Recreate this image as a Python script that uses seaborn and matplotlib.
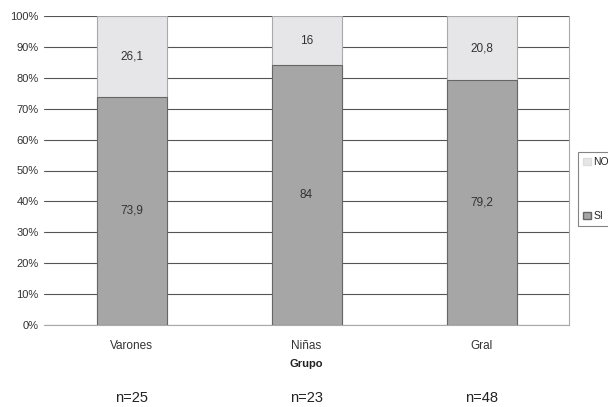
import matplotlib
matplotlib.use("Agg")
import matplotlib.pyplot as plt
import seaborn as sns
import pandas as pd
from matplotlib.patches import Patch

grupos = ["Varones", "Niñas", "Gral"]
si_vals = [73.9, 84, 79.2]
no_vals = [26.1, 16, 20.8]
si_labels = ["73,9", "84", "79,2"]
no_labels = ["26,1", "16", "20,8"]
n_labels = ["n=25", "n=23", "n=48"]

sns.set_theme(style="white")
plt.rcParams['font.family'] = ['Liberation Sans', 'DejaVu Sans']

df = pd.DataFrame({"Grupo": grupos, "SI": si_vals, "NO": no_vals})
df["Total"] = df["SI"] + df["NO"]

fig = plt.figure(figsize=(6.08, 4.07), dpi=100)
ax = fig.add_axes([44/608, 1-325/407, (569-44)/608, (325-16)/407])

c_si = "#a6a6a6"
c_no = "#e6e6e8"
edge = "#666666"

sns.barplot(data=df, x="Grupo", y="Total", color=c_no, width=0.4,
            edgecolor="#aaaaaa", linewidth=0.8, ax=ax, zorder=3, saturation=1)
sns.barplot(data=df, x="Grupo", y="SI", color=c_si, width=0.4,
            edgecolor=edge, linewidth=0.8, ax=ax, zorder=4, saturation=1)

for i in range(len(grupos)):
    ax.text(i, si_vals[i] / 2, si_labels[i], ha="center", va="center",
            fontsize=8.5, color="#333333", zorder=5)
    ax.text(i, si_vals[i] + no_vals[i] / 2, no_labels[i], ha="center", va="center",
            fontsize=8.5, color="#333333", zorder=5)

ax.set_ylim(0, 100)
ax.set_xlim(-0.5, 2.5)
ax.set_yticks(range(0, 101, 10))
ax.set_yticklabels([f"{v}%" for v in range(0, 101, 10)], fontsize=8, color="#333333")
ax.set_xticks(range(3))
ax.set_xticklabels(grupos, fontsize=8.5, color="#333333")
ax.set_xticks([0.5, 1.5], minor=True)
ax.tick_params(axis="x", which="major", length=0, pad=11)
ax.tick_params(axis="x", which="minor", length=3, color="#888888", direction="out")
ax.tick_params(axis="y", length=0, pad=4)
ax.yaxis.grid(True, color="#555555", linewidth=0.8, zorder=0)
ax.set_axisbelow(True)
ax.set_xlabel("Grupo", fontsize=8, fontweight="bold", color="#222222", labelpad=5)
ax.set_ylabel("")

for s in ["left", "top"]:
    ax.spines[s].set_visible(False)
ax.spines["right"].set_color("#aaaaaa")
ax.spines["bottom"].set_color("#aaaaaa")
ax.spines["right"].set_linewidth(0.8)
ax.spines["bottom"].set_linewidth(0.8)

# n labels below axis
for i, lab in enumerate(n_labels):
    ax.text(i, -0.237, lab, transform=ax.get_xaxis_transform(), ha="center",
            va="center", fontsize=10.5, color="#222222")

handles = [Patch(facecolor=c_no, edgecolor="#dddddd"), Patch(facecolor=c_si, edgecolor=edge)]
leg = fig.legend(handles, ["NO", "SI"], loc="upper left",
                 bbox_to_anchor=(578/608, 1-152/407), frameon=True, fontsize=7.5,
                 labelspacing=4.2, handlelength=0.7, handleheight=0.7,
                 handletextpad=0.25, borderpad=0.5, fancybox=False, borderaxespad=0)
leg.get_frame().set_edgecolor("#666666")
leg.get_frame().set_linewidth(0.8)

fig.savefig("out.png", dpi=100)
